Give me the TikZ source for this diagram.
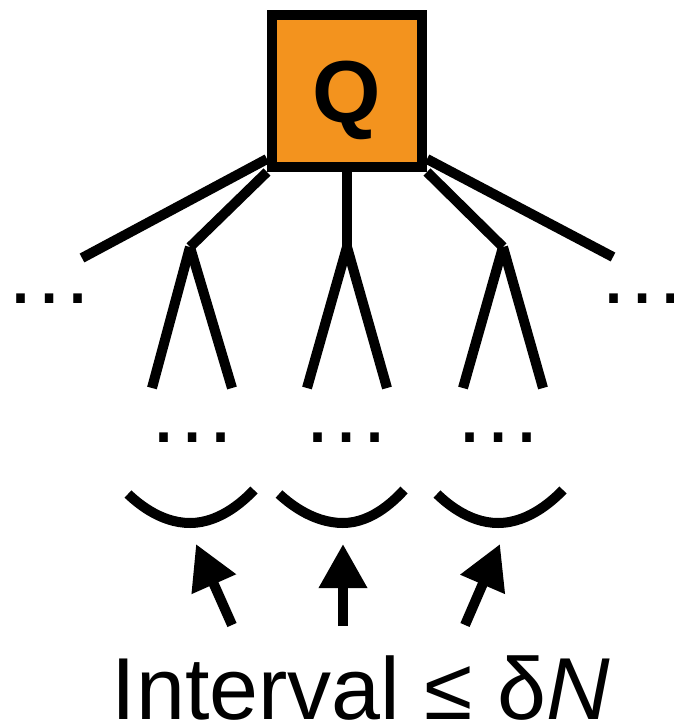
\documentclass[tikz,border=0pt]{standalone}
\usepackage{fontspec}
\setmainfont{Liberation Sans}
\usetikzlibrary{arrows.meta}
\definecolor{qorange}{RGB}{243,147,30}
\begin{document}
\begin{tikzpicture}[x=1pt,y=-1pt,
  edge/.style={line width=10pt},
  dots/.style={font=\fontsize{90}{90}\selectfont, inner sep=0pt, anchor=base},
  cup/.style={line width=10pt},
  pointer/.style={line width=10pt,-{Triangle[length=44pt,width=46pt]}}]
\useasboundingbox (0,0) rectangle (673,722);

% root box
\node[draw, line width=10pt, fill=qorange, minimum width=150pt, minimum height=152pt,
      inner sep=0pt, text height=64pt, text depth=0pt,
      font=\fontsize{88}{88}\selectfont\bfseries] (Q) at (347,91) {Q};

% branch points and leaf ends
\coordinate (e1) at (82,258);
\coordinate (e2) at (613,257);
\coordinate (a1) at (190,247);
\coordinate (a2) at (347,247);
\coordinate (a3) at (503,247);
\coordinate (l1a) at (152,388);
\coordinate (l1b) at (232,388);
\coordinate (l2a) at (307,388);
\coordinate (l2b) at (387,388);
\coordinate (l3a) at (463,388);
\coordinate (l3b) at (543,388);

% edges from the root
\draw[edge] ([yshift=13pt]Q.south west) -- (e1);
\draw[edge] ([yshift=13pt]Q.south east) -- (e2);
\draw[edge] (Q.south west) -- (a1);
\draw[edge] (Q.south) -- (a2);
\draw[edge] (Q.south east) -- (a3);

% second level
\draw[edge] (a1) -- (l1a);
\draw[edge] (a1) -- (l1b);
\draw[edge] (a2) -- (l2a);
\draw[edge] (a2) -- (l2b);
\draw[edge] (a3) -- (l3a);
\draw[edge] (a3) -- (l3b);

% ellipses
\node[dots] (dl) at (50,303) {…};
\node[dots] (dr) at (642,303) {…};
\node[dots] (d1) at (192,442) {…};
\node[dots] (d2) at (346,442) {…};
\node[dots] (d3) at (498,442) {…};

% intervals
\draw[cup] (128,494) parabola bend (190,523) (254,490);
\draw[cup] (279,494) parabola bend (343,523) (404,490);
\draw[cup] (437,494) parabola bend (498,523) (563,490);

% arrows pointing at the intervals
\coordinate (h1) at (196,544);
\coordinate (h2) at (343,544);
\coordinate (h3) at (500,544);
\coordinate (t1) at (232,625);
\coordinate (t2) at (343,626);
\coordinate (t3) at (465,625);
\draw[pointer] (t1) -- (h1);
\draw[pointer] (t2) -- (h2);
\draw[pointer] (t3) -- (h3);

% caption
\node[font=\fontsize{88}{88}\selectfont, anchor=base, inner sep=0pt] (caption)
  at (361,719) {Interval ≤ δ\textit{N}};
\end{tikzpicture}
\end{document}
